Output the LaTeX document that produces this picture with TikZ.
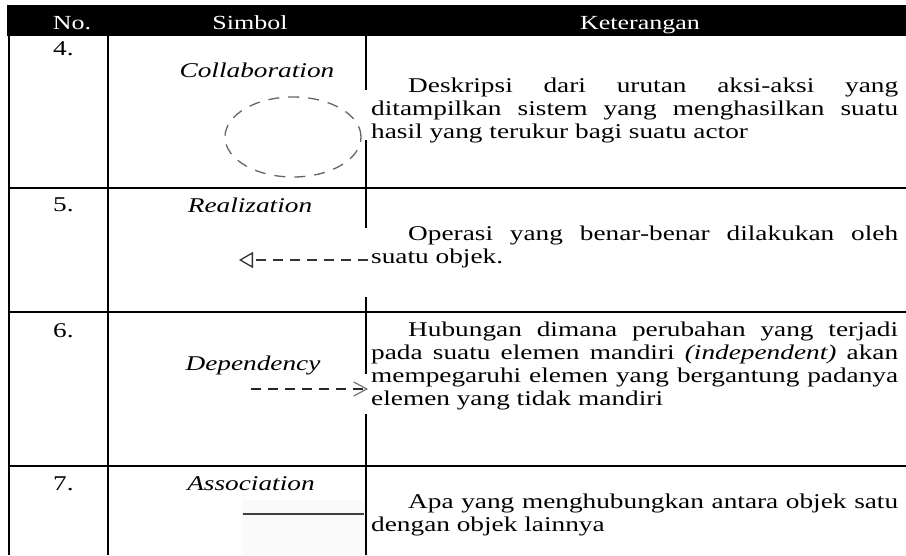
\documentclass[tikz,border=0pt]{standalone}
\usepackage{fontspec}
\setmainfont{Liberation Serif}[FakeStretch=1.3]
\usetikzlibrary{arrows.meta}
\usetikzlibrary{shapes,positioning}

\begin{document}
\begin{tikzpicture}[x=1pt,y=-1pt,font=\fontsize{21}{23}\selectfont]
    \tikzstyle{head}=[text=white, inner sep=0pt, anchor=base, font=\fontsize{20}{23}\selectfont]
    \tikzstyle{num}=[inner sep=0pt, anchor=base west]
    \tikzstyle{sym}=[inner sep=0pt, anchor=base, font=\fontsize{21}{23}\selectfont\itshape]
    \tikzstyle{desc}=[inner sep=0pt, anchor=north west, text width=527pt, align=justify]
    \tikzstyle{rule}=[line width=2pt]
    \tikzstyle{collab}=[ellipse, draw=black!60, dash pattern=on 11pt off 9pt, line width=1.3pt, minimum width=136pt, minimum height=80pt]
    \tikzstyle{realize}=[draw=black!80, line width=1.3pt, dash pattern=on 10pt off 7pt, -{Triangle[open,length=14pt,width=16pt]}]
    \tikzstyle{depend}=[draw=black!85, line width=1.3pt, dash pattern=on 10pt off 7pt, -{Straight Barb[length=13pt,width=14pt,line width=1.2pt,color=black!55]}]
    \tikzstyle{assoc}=[draw=black!75, line width=1.6pt]

    \useasboundingbox (0,0) rectangle (906,555);
    \fill[white] (0,0) rectangle (906,555);

    % header
    \fill[black] (7,5) rectangle (906,36);
    \node[head] (hno)  at (72,29)  {No.};
    \node[head] (hsym) at (250,29) {Simbol};
    \node[head] (hket) at (640,29) {Keterangan};

    % grid
    \draw[rule] (9,36) -- (9,555);
    \draw[rule] (108,36) -- (108,555);
    \draw[rule] (366,36) -- (366,90) (366,140) -- (366,228) (366,297) -- (366,374) (366,414) -- (366,555);
    \draw[rule] (9,188) -- (906,188);
    \draw[rule] (9,312) -- (906,312);
    \draw[rule] (9,466) -- (906,466);

    % row 4
    \node[num] (no4) at (53,55) {4.};
    \node[sym] (sym4) at (257,77) {Collaboration};
    \node[collab] (ell4) at (293,137) {};
    \node[desc] (ket4) at (371,76) {\hyphenpenalty=10000\exhyphenpenalty=10000\strut\hspace*{37pt}Deskripsi dari urutan aksi-aksi yang\linebreak ditampilkan sistem yang menghasilkan suatu\linebreak hasil yang terukur bagi suatu actor};

    % row 5
    \node[num] (no5) at (53,211) {5.};
    \node[sym] (sym5) at (250,212) {Realization};
    \coordinate (real-a) at (368,260);
    \coordinate (real-b) at (239,260);
    \draw[realize] (real-a) -- (real-b);
    \node[desc] (ket5) at (371,224) {\hyphenpenalty=10000\exhyphenpenalty=10000\strut\hspace*{37pt}Operasi yang benar-benar dilakukan oleh\linebreak suatu objek.};

    % row 6
    \node[num] (no6) at (53,337) {6.};
    \node[sym] (sym6) at (253,370) {Dependency};
    \coordinate (dep-a) at (251,389);
    \coordinate (dep-b) at (368,389);
    \draw[depend] (dep-a) -- (dep-b);
    \node[desc] (ket6) at (371,320) {\hyphenpenalty=10000\exhyphenpenalty=10000\strut\hspace*{37pt}Hubungan dimana perubahan yang terjadi\linebreak pada suatu elemen mandiri \textit{(independent)} akan\linebreak mempegaruhi elemen yang bergantung padanya\linebreak elemen yang tidak mandiri};

    % row 7
    \node[num] (no7) at (53,490) {7.};
    \node[sym] (sym7) at (251,490) {Association};
    \fill[black!2] (242,500) rectangle (365,555);
    \coordinate (asc-a) at (243,514);
    \coordinate (asc-b) at (364,514);
    \draw[assoc] (asc-a) -- (asc-b);
    \node[desc] (ket7) at (371,492) {\hyphenpenalty=10000\exhyphenpenalty=10000\strut\hspace*{37pt}Apa yang menghubungkan antara objek satu\linebreak dengan objek lainnya};
\end{tikzpicture}
\end{document}
